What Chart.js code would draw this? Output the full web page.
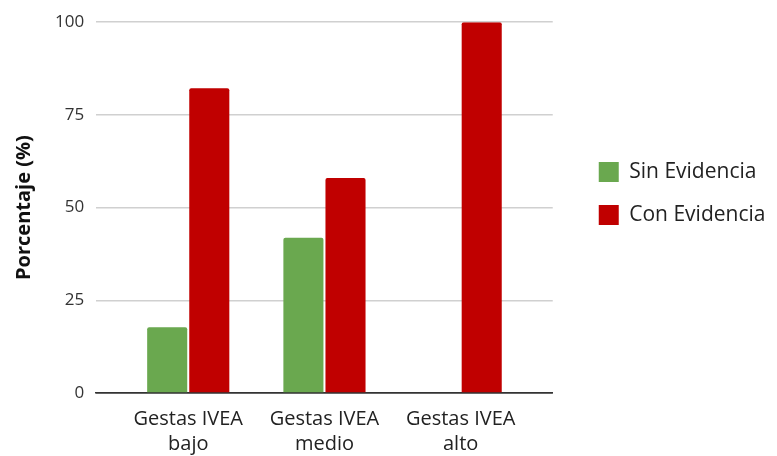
<!DOCTYPE html>
<html>
<head>
<meta charset="utf-8">
<script src="https://cdn.jsdelivr.net/npm/chart.js@4/dist/chart.umd.min.js"></script>
<style>
  html, body { margin: 0; padding: 0; background: #fff; }
  #wrap { width: 777px; height: 456px; position: relative; }
</style>
</head>
<body>
<div id="wrap"><canvas id="chart"></canvas></div>
<script>
// ---------- DATA ----------
const categories = [["Gestas IVEA", "bajo"], ["Gestas IVEA", "medio"], ["Gestas IVEA", "alto"]];
const sinEvidencia = [17.7, 41.9, 0];
const conEvidencia = [82.2, 58.0, 100];
const yTicks = [0, 25, 50, 75, 100];

const toPoints = arr => arr.map((v, i) => ({ x: i, y: v }));

// nudge the legend a bit right and up, like the original
const legendShift = {
    id: "legendShift",
    afterLayout(chart) {
        const l = chart.legend;
        l.left += 24; l.right += 80; // wider right edge so the text is not clipped
        l.top -= 14; l.bottom -= 14;
    }
};

const ctx = document.getElementById("chart").getContext("2d");

new Chart(ctx, {
    type: "bar",
    data: {
        datasets: [
            {
                label: "Sin Evidencia",
                data: toPoints(sinEvidencia),
                backgroundColor: "#6aa84f",
                borderRadius: 2,
                borderSkipped: "bottom",
                categoryPercentage: 0.618,
                barPercentage: 0.952
            },
            {
                label: "Con Evidencia",
                data: toPoints(conEvidencia),
                backgroundColor: "#c00000",
                borderRadius: 2,
                borderSkipped: "bottom",
                categoryPercentage: 0.618,
                barPercentage: 0.952
            }
        ]
    },
    options: {
        responsive: true,
        maintainAspectRatio: false,
        animation: false,
        layout: { padding: { top: 12, right: 44, left: 12, bottom: -7 } },
        scales: {
            x: {
                type: "linear",
                offset: false,
                min: -0.676,
                max: 2.676,
                afterBuildTicks: axis => { axis.ticks = categories.map((c, i) => ({ value: i })); },
                ticks: {
                    callback: (v) => categories[v],
                    color: "#222",
                    font: { family: "'Open Sans'", size: 20, lineHeight: 1.25 },
                    padding: 6,
                    maxRotation: 0
                },
                grid: { display: false, offset: false },
                border: { color: "#333", width: 1.5 }
            },
            y: {
                min: 0,
                max: 100,
                afterBuildTicks: axis => { axis.ticks = yTicks.map(v => ({ value: v })); },
                ticks: {
                    color: "#333",
                    font: { family: "'Open Sans'", size: 17 },
                    padding: 12
                },
                grid: {
                    color: c => c.tick && c.tick.value === 0 ? "#333" : "#d0d0d0",
                    lineWidth: 1.5,
                    drawTicks: false
                },
                border: { display: false },
                title: {
                    display: true,
                    text: "Porcentaje (%)",
                    color: "#111",
                    font: { family: "'Open Sans'", size: 20, weight: "bold" },
                    padding: { top: 0, bottom: 7 }
                }
            }
        },
        plugins: {
            legend: {
                position: "right",
                fullSize: false,
                labels: {
                    boxWidth: 20,
                    boxHeight: 20,
                    padding: 22,
                    color: "#222",
                    font: { family: "'Open Sans'", size: 21 }
                }
            },
            tooltip: { enabled: false }
        }
    },
    plugins: [legendShift]
});
</script>
</body>
</html>
